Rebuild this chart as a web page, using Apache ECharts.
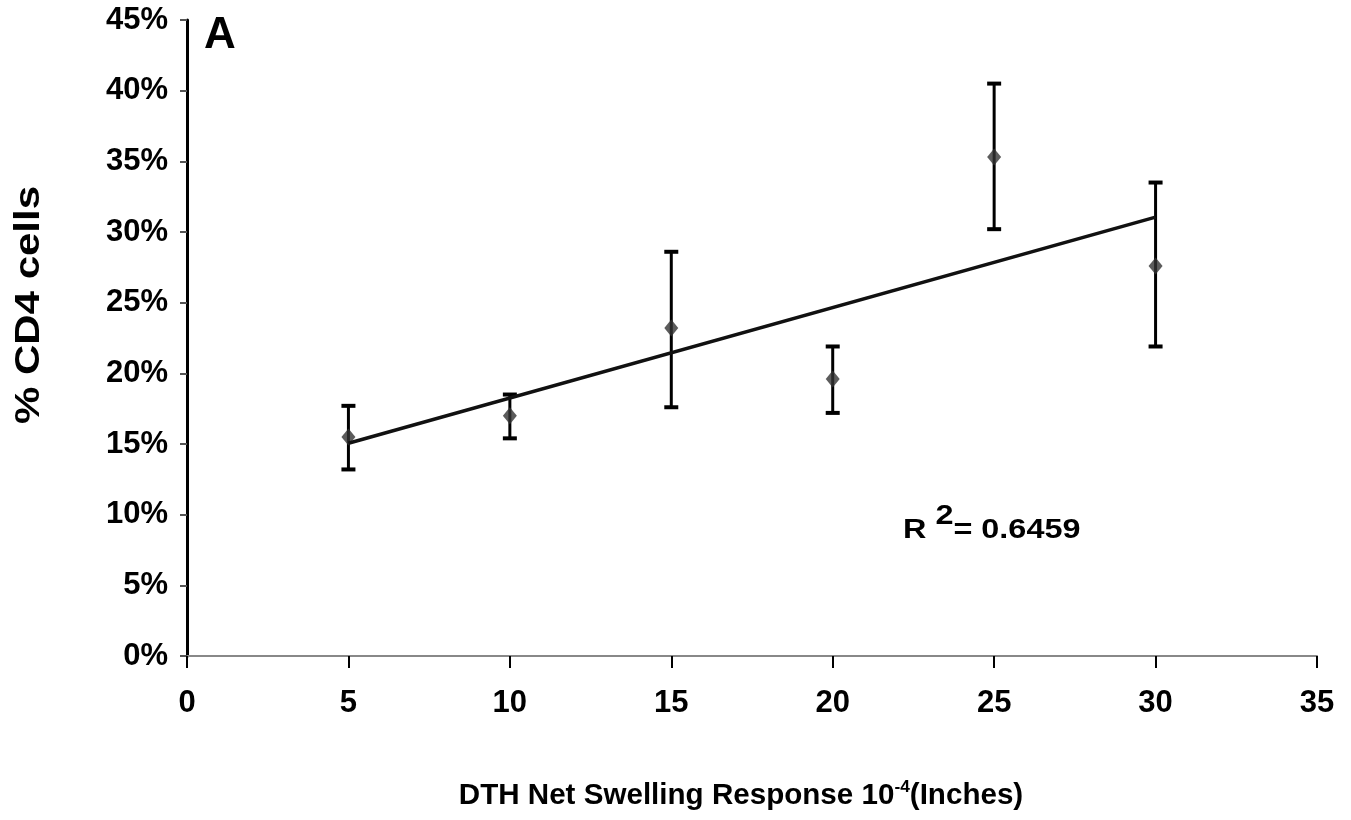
<!DOCTYPE html>
<html>
<head>
    <meta charset="utf-8">
    <title>CD4 vs DTH</title>
    <script src="https://cdn.jsdelivr.net/npm/echarts@6/dist/echarts.min.js"></script>
    <style>
        html, body { margin: 0; padding: 0; background: #fff; }
    </style>
</head>
<body>
    <div id="main" style="width: 1351px;height:820px;"></div>
    <script type="text/javascript">
        // data (percent units)
        var swelling = [5, 10, 15, 20, 25, 30];
        var cd4Mean = [15.5, 17.0, 23.2, 19.6, 35.3, 27.6];
        var cd4Upper = [17.7, 18.5, 28.6, 21.9, 40.5, 33.5];
        var cd4Lower = [13.2, 15.4, 17.6, 17.2, 30.2, 21.9];
        var trendX = [5, 30];
        var trendY = [15.05, 31.05];
        var rSquared = '0.6459';

        var font = '"Liberation Sans", Arial, sans-serif';

        var myChart = echarts.init(document.getElementById('main'));

        var points = swelling.map(function (x, i) { return [x, cd4Mean[i]]; });
        var bars = swelling.map(function (x, i) { return [x, cd4Lower[i], cd4Upper[i]]; });
        var trend = trendX.map(function (x, i) { return [x, trendY[i]]; });

        var option = {
            animation: false,
            backgroundColor: '#fff',
            grid: { left: 187, right: 34, top: 20, bottom: 164 },
            xAxis: {
                type: 'value',
                min: 0, max: 35, interval: 5,
                axisLine: { lineStyle: { color: '#888', width: 2 } },
                axisTick: { show: true, length: 12, lineStyle: { color: '#000', width: 2 } },
                splitLine: { show: false },
                axisLabel: {
                    margin: 32, color: '#000', fontFamily: font,
                    fontWeight: 'bold', fontSize: 31
                }
            },
            yAxis: {
                type: 'value',
                min: 0, max: 45, interval: 5,
                axisLine: { show: true, lineStyle: { color: '#000', width: 3 } },
                axisTick: { show: true, length: 7, lineStyle: { color: '#555', width: 2 } },
                splitLine: { show: false },
                axisLabel: {
                    margin: 19, color: '#000', fontFamily: font,
                    fontWeight: 'bold', fontSize: 31,
                    formatter: '{value}%'
                }
            },
            series: [
                {
                    type: 'custom',
                    data: bars,
                    z: 2,
                    renderItem: function (params, api) {
                        var x = api.value(0);
                        var lo = api.coord([x, api.value(1)]);
                        var hi = api.coord([x, api.value(2)]);
                        var w = 7;
                        var st = { stroke: '#000', lineWidth: 3 };
                        return {
                            type: 'group',
                            children: [
                                { type: 'line', shape: { x1: lo[0], y1: lo[1], x2: hi[0], y2: hi[1] }, style: st },
                                { type: 'line', shape: { x1: lo[0] - w, y1: lo[1], x2: lo[0] + w, y2: lo[1] }, style: { stroke: '#000', lineWidth: 4 } },
                                { type: 'line', shape: { x1: hi[0] - w, y1: hi[1], x2: hi[0] + w, y2: hi[1] }, style: { stroke: '#000', lineWidth: 4 } }
                            ]
                        };
                    }
                },
                {
                    type: 'scatter',
                    data: points,
                    symbol: 'diamond',
                    symbolSize: [14, 17],
                    itemStyle: { color: '#333' },
                    z: 3
                },
                {
                    type: 'line',
                    data: trend,
                    symbol: 'none',
                    lineStyle: { color: '#111', width: 3.5 },
                    z: 4
                }
            ],
            graphic: [
                {
                    type: 'text', left: 204, top: 14,
                    style: { text: 'A', font: 'bold 44px ' + font, fill: '#000' }
                },
                {
                    type: 'text', x: 903, y: 524, scaleX: 1.2,
                    style: {
                        text: '{b|R }{s|2}{b|= ' + rSquared + '}',
                        verticalAlign: 'middle',
                        rich: {
                            b: { font: 'bold 27px ' + font, fill: '#000', verticalAlign: 'bottom', lineHeight: 36 },
                            s: { font: 'bold 27px ' + font, fill: '#000', verticalAlign: 'top', padding: [0, 0, 14, 0] }
                        }
                    }
                },
                {
                    type: 'text', x: 29, y: 305, rotation: Math.PI / 2, scaleX: 1.2,
                    style: {
                        text: '% CD4 cells', font: 'bold 35px ' + font, fill: '#000',
                        align: 'center', verticalAlign: 'middle'
                    }
                },
                {
                    type: 'text', x: 741, y: 796, scaleX: 1.02,
                    style: {
                        text: '{b|DTH Net Swelling Response 10}{s|-4}{b|(Inches)}',
                        align: 'center', verticalAlign: 'middle',
                        rich: {
                            b: { font: 'bold 29px ' + font, fill: '#000' },
                            s: { font: 'bold 17px ' + font, fill: '#000', padding: [0, 0, 18, 0] }
                        }
                    }
                }
            ]
        };

        myChart.setOption(option);
    </script>
</body>
</html>
